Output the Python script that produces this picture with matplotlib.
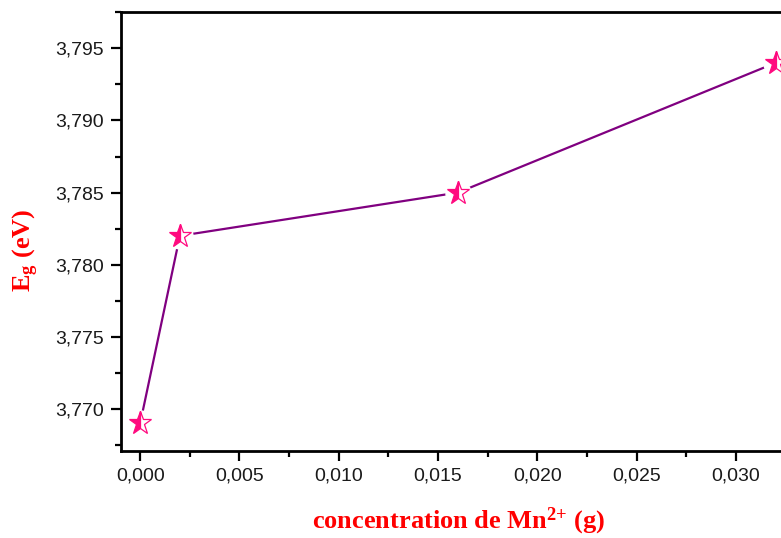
import matplotlib
matplotlib.use("Agg")
import matplotlib.pyplot as plt
from matplotlib.ticker import MultipleLocator, FuncFormatter

plt.rcParams["mathtext.fontset"] = "custom"
plt.rcParams["mathtext.bf"] = "Liberation Serif:bold"
plt.rcParams["mathtext.rm"] = "Liberation Serif:bold"
plt.rcParams["mathtext.it"] = "Liberation Serif:bold"

# Band gap vs. Mn2+ concentration
concentration = [0.000, 0.002, 0.016, 0.032]
band_gap = [3.769, 3.782, 3.785, 3.794]

x_ticks = [0.000, 0.005, 0.010, 0.015, 0.020, 0.025, 0.030]
y_ticks = [3.770, 3.775, 3.780, 3.785, 3.790, 3.795]

W, H, DPI = 781, 538, 100
fig = plt.figure(figsize=(W / DPI, H / DPI), dpi=DPI)
fig.patch.set_facecolor("white")

left, right = 120.7 / W, 815.5 / W
bottom, top = 1 - 450.7 / H, 1 - 12.3 / H
ax = fig.add_axes([left, bottom, right - left, top - bottom])

line_color = "#800080"
star_color = "#FF0A7F"

ax.plot(concentration, band_gap, color=line_color, lw=1.6, zorder=2,
        solid_capstyle="butt")
# white halo that leaves a gap between the line and each symbol
ax.plot(concentration, band_gap, ls="none", marker="o", ms=18,
        mfc="white", mec="white", zorder=3)
ax.plot(concentration, band_gap, ls="none", marker="*", ms=17,
        fillstyle="left", mfc=star_color, mfcalt="white",
        mec=star_color, mew=0.9, zorder=4)

ax.set_xlim(-0.00098, 0.0340)
ax.set_ylim(3.7671, 3.7975)

ax.set_xticks(x_ticks)
ax.set_yticks(y_ticks)
ax.xaxis.set_minor_locator(MultipleLocator(0.0025))
ax.yaxis.set_minor_locator(MultipleLocator(0.0025))

comma3 = FuncFormatter(lambda v, p: f"{v:.3f}".replace(".", ","))
ax.xaxis.set_major_formatter(comma3)
ax.yaxis.set_major_formatter(comma3)

for s in ax.spines.values():
    s.set_linewidth(2.0)
    s.set_color("black")
ax.spines["right"].set_visible(False)

ax.tick_params(which="major", direction="out", length=7, width=1.6,
               labelsize=14, labelcolor="#1a1a1a", pad=5, top=False, right=False)
ax.tick_params(which="minor", direction="out", length=4, width=1.6,
               top=False, right=False)
for lbl in ax.get_xticklabels() + ax.get_yticklabels():
    lbl.set_family("Liberation Sans")

label_font = dict(family="Liberation Serif", weight="bold", color="#FF0000",
                  size=19)
fig.text(26 / W, 1 - 250 / H, r"E$_{\mathbf{g}}$ (eV)", rotation=90,
         ha="center", va="center", **label_font)
fig.text(459 / W, 1 - 521 / H, r"concentration de Mn$^{\mathbf{2{+}}}$ (g)",
         ha="center", va="center", **label_font)

fig.savefig("out.png", dpi=DPI)
